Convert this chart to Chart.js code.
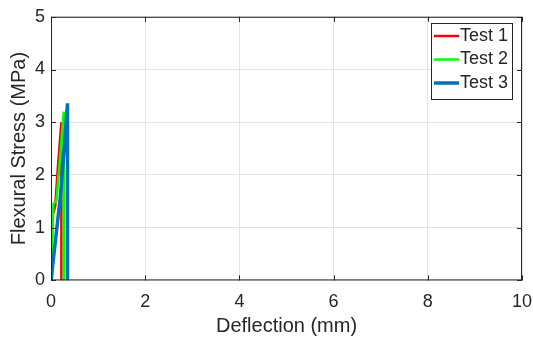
<!DOCTYPE html>
<html>
<head>
<meta charset="utf-8">
<script src="https://cdn.jsdelivr.net/npm/chart.js@4"></script>
<style>
  body { margin: 0; background: #fff; }
  #wrap { width: 533px; height: 343px; }
</style>
</head>
<body>
<div id="wrap"><canvas id="mycanvas"></canvas></div>
<script>
var labels = ['Test 1', 'Test 2', 'Test 3'];
var colors = ['rgb(255, 0, 0)', 'rgb(0, 255, 0)', 'rgb(0, 114, 189)'];

var test1X = [0, 0.02, 0.06, 0.09, 0.15, 0.22, 0.22];
var test1Y = [0, 1.25, 1.3, 1.42, 2.2, 3.0, 0];
var test2X = [0, 0.05, 0.10, 0.12, 0.20, 0.27, 0.27];
var test2Y = [0, 1.45, 1.5, 1.55, 2.4, 3.2, 0];
var test3X = [0, 0.10, 0.20, 0.28, 0.35, 0.35];
var test3Y = [0, 0.8, 1.6, 2.5, 3.36, 0];

var xTicks = [0, 2, 4, 6, 8, 10];
var yTicks = [0, 1, 2, 3, 4, 5];

function pts(xs, ys) {
    var out = [];
    for (var i in xs) {
        out.push({ x: xs[i], y: ys[i] });
    }
    return out;
}

var widths = [2.5, 2.5, 3.5];
var series = [pts(test1X, test1Y), pts(test2X, test2Y), pts(test3X, test3Y)];
var datasets = [];
for (var i = 0; i < series.length; i++) {
    datasets.push({
        label: labels[i],
        data: series[i],
        borderColor: colors[i],
        backgroundColor: colors[i],
        borderWidth: widths[i],
        showLine: true,
        pointRadius: 0,
        order: series.length - i
    });
}

var textColor = '#262626';
var fontFam = '"Liberation Sans", Arial, sans-serif';

// box around the plot, inward ticks and the framed legend
var framePlugin = {
    id: 'frame',
    afterDraw: function (chart) {
        var c = chart.ctx, a = chart.chartArea;
        var xs = chart.scales.x, ys = chart.scales.y;
        c.save();
        c.strokeStyle = textColor;
        c.lineWidth = 1;
        c.strokeRect(a.left + 0.5, a.top + 0.5, a.right - a.left - 1, a.bottom - a.top - 1);
        c.beginPath();
        xTicks.forEach(function (v) {
            var px = Math.round(xs.getPixelForValue(v)) + 0.5;
            c.moveTo(px, a.bottom); c.lineTo(px, a.bottom - 5);
            c.moveTo(px, a.top); c.lineTo(px, a.top + 5);
        });
        yTicks.forEach(function (v) {
            var py = Math.round(ys.getPixelForValue(v)) + 0.5;
            c.moveTo(a.left, py); c.lineTo(a.left + 5, py);
            c.moveTo(a.right, py); c.lineTo(a.right - 5, py);
        });
        c.stroke();

        // legend
        var lx = 431, ly = 23, lw = 81, lh = 76;
        c.fillStyle = '#fff';
        c.fillRect(lx, ly, lw, lh);
        c.strokeStyle = textColor;
        c.lineWidth = 1;
        c.strokeRect(lx + 0.5, ly + 0.5, lw, lh);
        c.font = '18px ' + fontFam;
        c.textBaseline = 'middle';
        for (var i = 0; i < labels.length; i++) {
            var yy = ly + 13 + i * 23.5;
            c.strokeStyle = colors[i];
            c.lineWidth = widths[i];
            c.beginPath();
            c.moveTo(lx + 3, yy); c.lineTo(lx + 28, yy);
            c.stroke();
            c.fillStyle = textColor;
            c.fillText(labels[i], lx + 29, yy);
        }
        c.restore();
    }
};

var ctx = document.getElementById('mycanvas');
var chart = new Chart(ctx, {
    type: 'scatter',
    data: { datasets: datasets },
    options: {
        responsive: true,
        maintainAspectRatio: false,
        animation: false,
        layout: { padding: { top: 14, right: 11, left: 7, bottom: 3 } },
        plugins: { legend: { display: false }, tooltip: { enabled: false } },
        scales: {
            x: {
                type: 'linear', min: 0, max: 10,
                afterBuildTicks: function (s) { s.ticks = xTicks.map(function (v) { return { value: v }; }); },
                afterFit: function (s) { s.paddingRight = 0; },
                grid: { color: '#e3e3e3', drawTicks: false },
                border: { display: false },
                ticks: { color: textColor, padding: 11, font: { size: 18, family: fontFam } },
                title: { display: true, text: 'Deflection (mm)', color: textColor, padding: { top: -10, bottom: 2 }, font: { size: 20, family: fontFam } }
            },
            y: {
                type: 'linear', min: 0, max: 5,
                afterBuildTicks: function (s) { s.ticks = yTicks.map(function (v) { return { value: v }; }); },
                grid: { color: '#e3e3e3', drawTicks: false },
                border: { display: false },
                ticks: { color: textColor, padding: 6, font: { size: 18, family: fontFam } },
                title: { display: true, text: 'Flexural Stress (MPa)', color: textColor, padding: { top: 0, bottom: -2 }, font: { size: 20, family: fontFam } }
            }
        }
    },
    plugins: [framePlugin]
});
</script>
</body>
</html>
